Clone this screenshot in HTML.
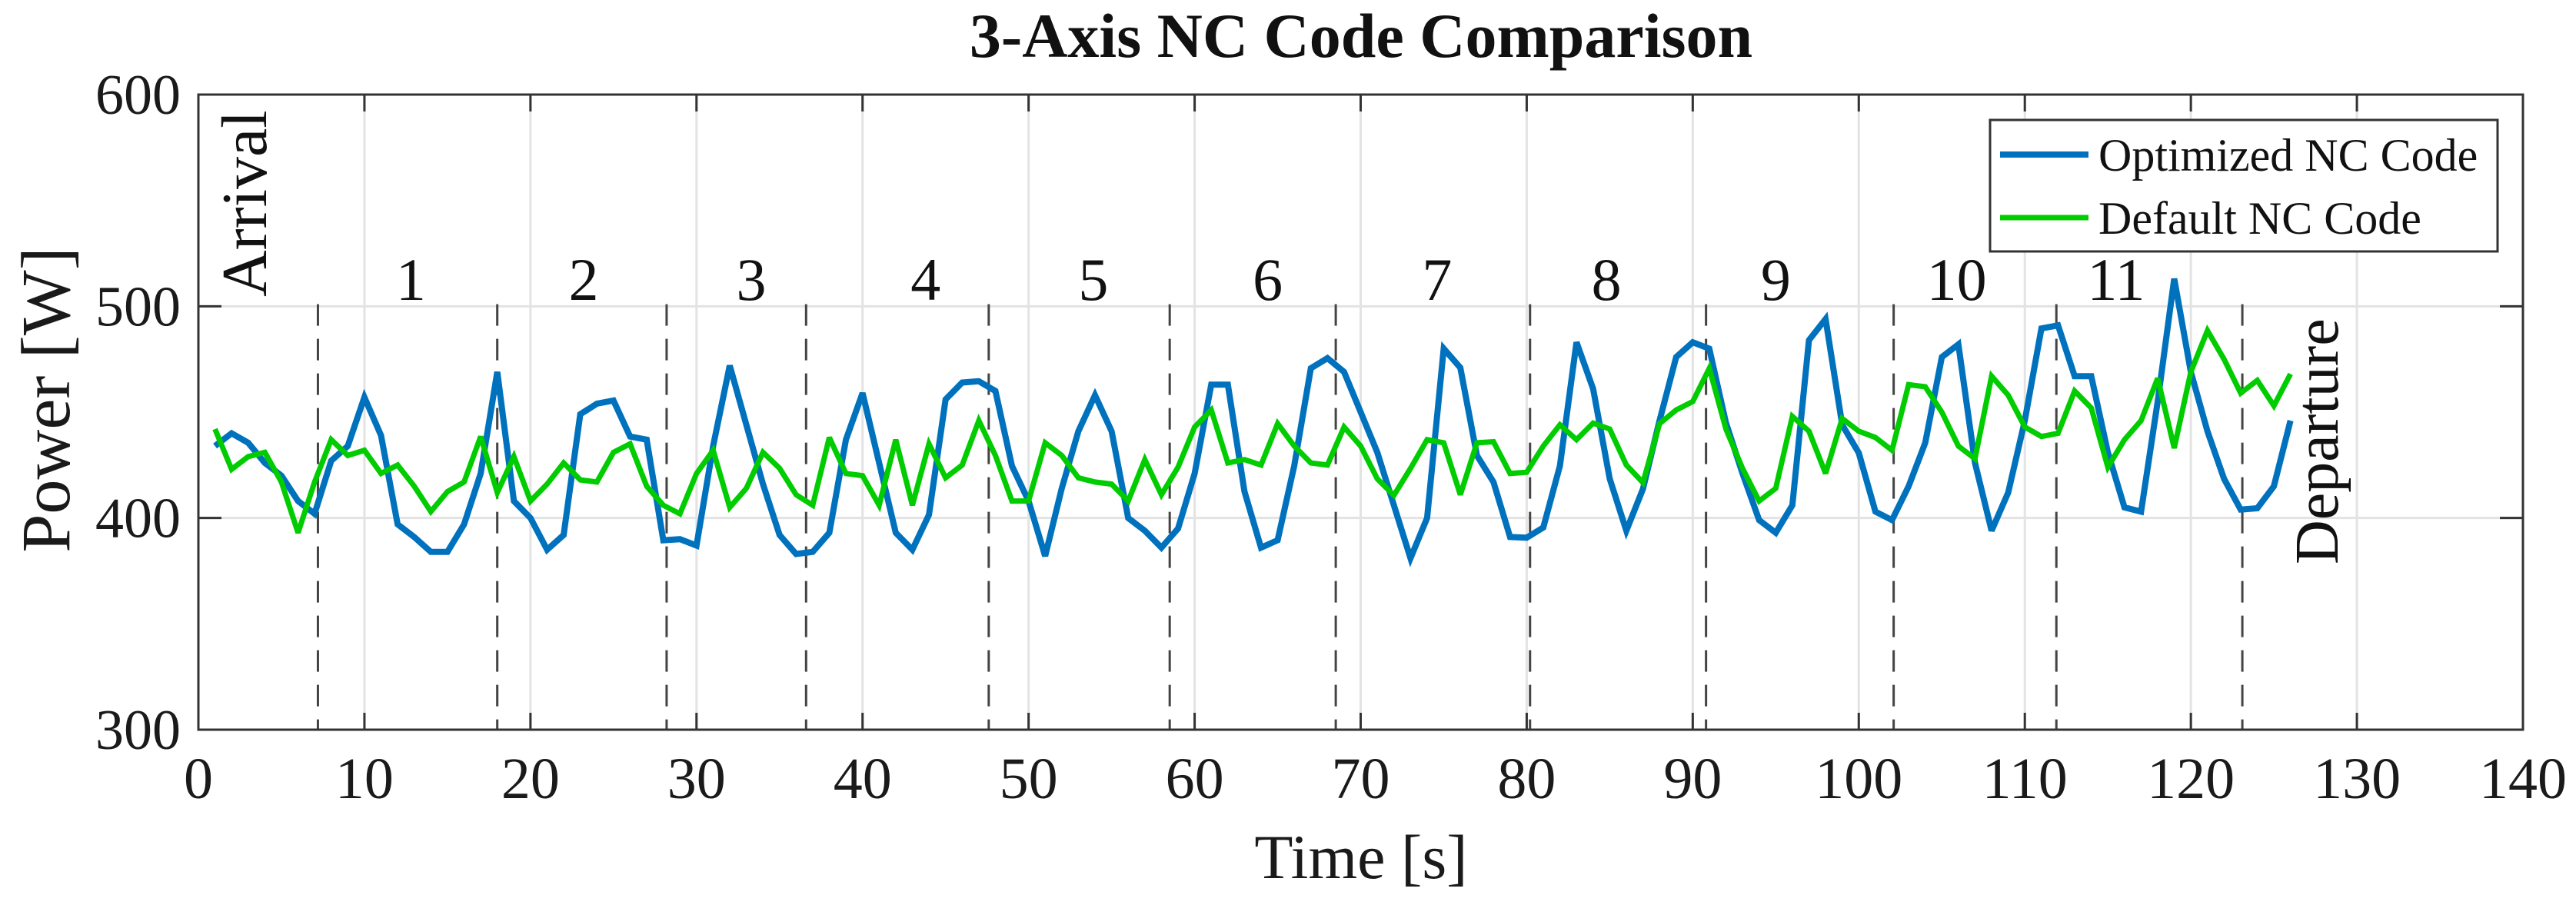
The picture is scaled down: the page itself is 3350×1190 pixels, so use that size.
<!DOCTYPE html>
<html><head><meta charset="utf-8">
<style>
html,body{margin:0;padding:0;background:#fff;}
svg{display:block;font-family:"Liberation Serif",serif;}
</style></head>
<body>
<svg id="chart" width="3350" height="1190" viewBox="0 0 3350 1190" xmlns="http://www.w3.org/2000/svg">
<rect x="0" y="0" width="3350" height="1190" fill="#fff"/>
<g id="grid"></g>
<g id="dividers"></g>
<g id="series"></g>
<g id="axes"></g>
<g id="labels"></g>
</svg>
<script>
const xTicks = [0,10,20,30,40,50,60,70,80,90,100,110,120,130,140];
const yTicks = [300,400,500,600];
const times = [1,2,3,4,5,6,7,8,9,10,11,12,13,14,15,16,17,18,19,20,21,22,23,24,25,26,27,28,29,30,31,32,33,34,35,36,37,38,39,40,41,42,43,44,45,46,47,48,49,50,51,52,53,54,55,56,57,58,59,60,61,62,63,64,65,66,67,68,69,70,71,72,73,74,75,76,77,78,79,80,81,82,83,84,85,86,87,88,89,90,91,92,93,94,95,96,97,98,99,100,101,102,103,104,105,106,107,108,109,110,111,112,113,114,115,116,117,118,119,120,121,122,123,124,125,126];
const optimized = [434,440,435.5,426,420,408,402,427,434,457,439,397,391,384,384,397,421,469,408,400,385,392,449,454,455.5,438.5,437,389.5,390,387,434,472,444,416,392,383,384,393,437,459,426,393,385,401.5,456,464,464.6,460,424.6,408,382,414,441,458,441,400,394,386,395,421,463,463,412.5,386,389.5,424.6,470.7,475.5,469,450,431,406,381,400,480,471,429.5,417,391,390.7,395.5,424.6,483,461,418.5,394,413.7,446,476,483,480,445,421,399,393,406,484,494,444,430.7,403,399,415,435.5,476,482,426,394,412,446,489.5,491,467,467,431,405,403,455,513,469,441,418.5,404,404.6,415,446];
const defaultCode = [442,423,429,431,417,393,417,437,429.5,432,421,425,415,403,412.5,417,438.5,412,429,408,416,426,418,417,431,435,415,406,402,421,432,405,414,431,423.5,411,406,438,421,420,406,437,406,435,419,425,446,429.5,408,408,435.5,429.5,419,417,416,408,427.6,411,424,443,451,426,427.6,425,444.6,434,426,425,443,434,418.5,410.7,423.4,437,435.5,411,435.5,436,421,421.6,434,444,437,444.8,442,425,416.7,444.6,451,455,470.7,442,423.4,408,414,448,441,421,447,441,438,432,463,462,450,434,428,467,458,443,438.5,440,460,452,424,437,446,466,433,469,488.5,475,459,465,453,468];
const dividerTimes = [7.2,18.0,28.2,36.6,47.6,58.5,68.5,80.2,90.8,102.1,111.9,123.1];
const segmentLabels = ["1","2","3","4","5","6","7","8","9","10","11"];
const segmentLabelTimes = [12.8,23.2,33.3,43.8,53.9,64.4,74.6,84.8,95.0,105.9,115.5];

const NS="http://www.w3.org/2000/svg";
const L=258,R=3281,T=123,B=949,XMIN=0,XMAX=140,YMIN=300,YMAX=600;
const sx=v=>L+(v-XMIN)/(XMAX-XMIN)*(R-L);
const sy=v=>B-(v-YMIN)/(YMAX-YMIN)*(B-T);
function mk(tag,attrs,parent){const e=document.createElementNS(NS,tag);for(const k in attrs)e.setAttribute(k,attrs[k]);parent.appendChild(e);return e;}
const grid=document.getElementById('grid'),axes=document.getElementById('axes'),labels=document.getElementById('labels'),series=document.getElementById('series'),dividers=document.getElementById('dividers');

xTicks.forEach(t=>{
  const g=mk('line',{x1:sx(t),x2:sx(t),y1:T,y2:B,stroke:'#e3e3e3','stroke-width':3},grid);
  
  
  mk('line',{x1:sx(t),x2:sx(t),y1:B,y2:B-22,stroke:'#333','stroke-width':3},axes);
  mk('line',{x1:sx(t),x2:sx(t),y1:T,y2:T+22,stroke:'#333','stroke-width':3},axes);
  const tx=mk('text',{x:sx(t),y:1038,'font-size':76,'text-anchor':'middle',fill:'#1a1a1a'},labels);
  tx.textContent=t;
  
  
});
yTicks.forEach(v=>{
  const g=mk('line',{x1:L,x2:R,y1:sy(v),y2:sy(v),stroke:'#e3e3e3','stroke-width':3},grid);
  
  
  mk('line',{x1:L,x2:L+30,y1:sy(v),y2:sy(v),stroke:'#333','stroke-width':3},axes);
  mk('line',{x1:R,x2:R-30,y1:sy(v),y2:sy(v),stroke:'#333','stroke-width':3},axes);
  const tx=mk('text',{x:235,y:sy(v)+25,'font-size':74,'text-anchor':'end',fill:'#1a1a1a'},labels);
  tx.textContent=v;
  
  
});
const box=mk('rect',{x:L,y:T,width:R-L,height:B-T,fill:'none',stroke:'#333','stroke-width':3},axes);



dividerTimes.forEach(t=>{
  const d=mk('line',{x1:sx(t),x2:sx(t),y1:sy(501),y2:B,stroke:'#444','stroke-width':3,'stroke-dasharray':'28 17'},dividers);
  
  
});

function line(vals,color,w,name){
  const pts=times.map((t,i)=>sx(t).toFixed(1)+','+sy(vals[i]).toFixed(1)).join(' ');
  const p=mk('polyline',{points:pts,fill:'none',stroke:color,'stroke-width':w,'stroke-linejoin':'miter','stroke-miterlimit':3},series);
  
  
}
line(optimized,'#0072BD',8,'optimized-series-line');
line(defaultCode,'#00CC00',7,'default-series-line');

segmentLabels.forEach((s,i)=>{
  const tx=mk('text',{x:sx(segmentLabelTimes[i]),y:390,'font-size':78,'text-anchor':'middle',fill:'#111'},labels);
  tx.textContent=s;
  
  
});
</script>
<svg style="position:absolute;left:0;top:0" width="3350" height="1190" viewBox="0 0 3350 1190" xmlns="http://www.w3.org/2000/svg" font-family="Liberation Serif, serif">
  <text x="1770" y="74" font-size="82" font-weight="bold" text-anchor="middle" fill="#111">3-Axis NC Code Comparison</text>
  <text x="1770" y="1142" font-size="82" text-anchor="middle" fill="#1a1a1a">Time [s]</text>
  <text transform="translate(90,520) rotate(-90)" font-size="90" text-anchor="middle" fill="#1a1a1a">Power [W]</text>
  <text transform="translate(346,386) rotate(-90)" font-size="84" text-anchor="start" fill="#111">Arrival</text>
  <text transform="translate(3040,734) rotate(-90)" font-size="80" text-anchor="start" fill="#111">Departure</text>
  <g>
    <rect x="2588" y="156" width="660" height="171" fill="#fff" stroke="#333" stroke-width="3"/>
    <line x1="2601" x2="2716" y1="201" y2="201" stroke="#0072BD" stroke-width="8"/>
    <text x="2729" y="222" font-size="60" fill="#111">Optimized NC Code</text>
    <line x1="2601" x2="2716" y1="283" y2="283" stroke="#00CC00" stroke-width="7"/>
    <text x="2729" y="304" font-size="60" fill="#111">Default NC Code</text>
  </g>
</svg>
</body></html>
